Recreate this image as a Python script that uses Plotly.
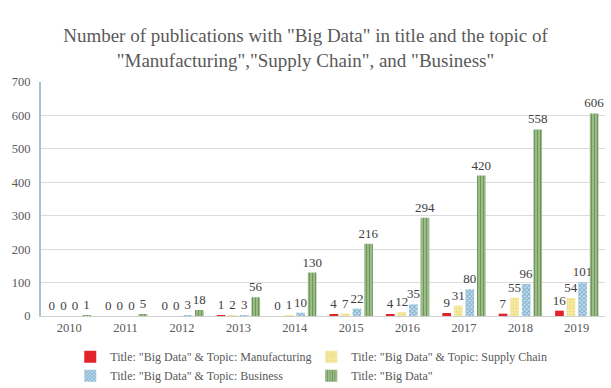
import plotly.graph_objects as go

years = ["2010", "2011", "2012", "2013", "2014", "2015", "2016", "2017", "2018", "2019"]
manufacturing = [0, 0, 0, 1, 0, 4, 4, 9, 7, 16]
supply_chain = [0, 0, 0, 2, 1, 7, 12, 31, 55, 54]
business = [0, 0, 3, 3, 10, 22, 35, 80, 96, 101]
big_data = [1, 5, 18, 56, 130, 216, 294, 420, 558, 606]

names = [
    'Title: "Big Data" & Topic: Manufacturing',
    'Title: "Big Data" & Topic: Supply Chain',
    'Title: "Big Data" & Topic: Business',
    'Title: "Big Data"',
]

FONT = "Liberation Serif"
series = [manufacturing, supply_chain, business, big_data]
styles = [
    dict(color="#e3232b", pattern=dict(shape="")),
    dict(color="#f8f0b8", pattern=dict(shape=".", fgcolor="#e3c948", bgcolor="#f8f0b8", size=3, solidity=0.6)),
    dict(color="#cfe3ee", pattern=dict(shape="x", fgcolor="#3d86b8", bgcolor="#cfe3ee", size=3, solidity=0.6)),
    dict(color="#9dbb88", pattern=dict(shape="|", fgcolor="#2f6b22", bgcolor="#9dbb88", size=3, solidity=0.3)),
]

fig = go.Figure()
for name, vals, st in zip(names, series, styles):
    fig.add_trace(go.Bar(
        x=years, y=vals, name=name,
        marker=dict(color=st["color"], pattern=st["pattern"], line=dict(width=0)),
        text=[str(v) for v in vals], textposition="outside",
        textfont=dict(family=FONT, size=13, color="#404040"),
        cliponaxis=False, constraintext="none",
    ))

fig.update_layout(
    width=611, height=388,
    margin=dict(l=41, r=6, t=82, b=72, autoexpand=False),
    paper_bgcolor="white", plot_bgcolor="white",
    font=dict(family=FONT, color="#595959"),
    title=dict(
        text='Number of publications with "Big Data" in title and the topic of<br>"Manufacturing","Supply Chain", and "Business"',
        x=0.5, xanchor="center", y=0.891, yanchor="top",
        font=dict(family=FONT, size=19, color="#595959"),
    ),
    barmode="group", bargap=0.18, bargroupgap=0.25,
    showlegend=True,
    legend=dict(
        orientation="h", xref="container", yref="container",
        x=0.115, xanchor="left", y=0.118, yanchor="top",
        entrywidth=196, entrywidthmode="pixels",
        font=dict(family=FONT, size=12, color="#595959"),
        itemwidth=30, tracegroupgap=0,
        bgcolor="rgba(0,0,0,0)",
    ),
)
fig.update_yaxes(
    range=[0, 700], dtick=100, showgrid=True, gridcolor="#dcdcdc", gridwidth=1,
    showline=True, linecolor="#a9c2cc", linewidth=2, zeroline=False,
    tickfont=dict(family=FONT, size=12.5, color="#595959"), ticks="", ticklabelstandoff=6,
)
fig.update_xaxes(
    showline=True, linecolor="#d0d0d0", linewidth=1, ticks="",
    tickfont=dict(family=FONT, size=12.5, color="#595959"),
)

fig.write_html("out.html", config={"displayModeBar": False},
               post_script="document.body.style.margin='0';")
